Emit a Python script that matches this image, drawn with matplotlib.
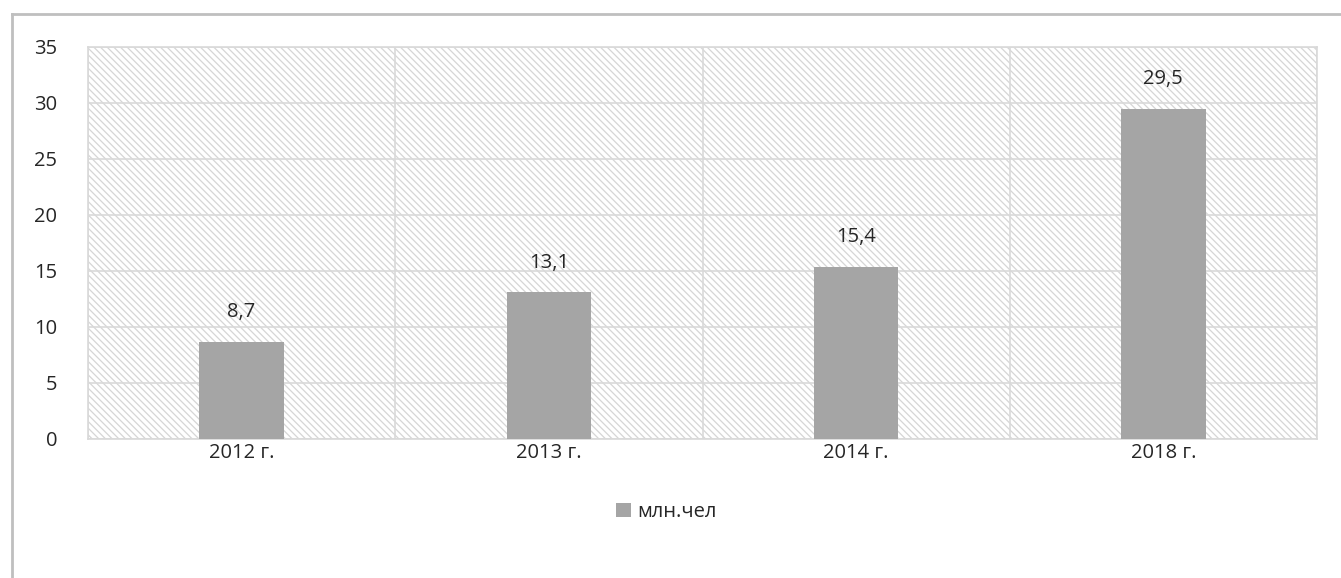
import matplotlib
matplotlib.use("Agg")
import matplotlib.pyplot as plt
from matplotlib.patches import Rectangle, Patch
from matplotlib.lines import Line2D

categories = ["2012 г.", "2013 г.", "2014 г.", "2018 г."]
values = [8.7, 13.1, 15.4, 29.5]
value_labels = ["8,7", "13,1", "15,4", "29,5"]
series_name = "млн.чел"
y_ticks = [0, 5, 10, 15, 20, 25, 30, 35]

plt.rcParams['font.family'] = ['Open Sans', 'DejaVu Sans']
plt.rcParams['hatch.linewidth'] = 0.9

BAR = "#a5a5a5"
GRID = "#d9d9d9"
TEXT = "#262626"
FS = 14.5

fig = plt.figure(figsize=(13.41, 5.78), dpi=100)
ax = fig.add_axes([88 / 1341, 1 - 439 / 578, (1317 - 88) / 1341, (439 - 47) / 578])

n = len(categories)
ax.set_xlim(-0.5, n - 0.5)
ax.set_ylim(0, 35)

# hatched plot background
ax.add_patch(Rectangle((0, 0), 1, 1, transform=ax.transAxes, facecolor="white",
                       edgecolor="#d6d6d6", linewidth=0, hatch="\\" * 5, zorder=0))

# grid lines
for t in y_ticks:
    ax.axhline(t, color=GRID, linewidth=1.2, zorder=1)
for b in range(n + 1):
    ax.axvline(b - 0.5, color=GRID, linewidth=1.2, zorder=1)

x = list(range(n))
ax.bar(x, values, width=0.275, color=BAR, zorder=3)

for xi, v, lab in zip(x, values, value_labels):
    ax.annotate(lab, (xi, v), xytext=(0, 14), textcoords="offset points",
                ha="center", va="bottom", fontsize=FS, color=TEXT)

ax.set_xticks(x)
ax.set_xticklabels(categories)
ax.set_yticks(y_ticks)
ax.tick_params(length=0, labelsize=FS, labelcolor=TEXT)
ax.tick_params(axis="x", pad=3)
ax.tick_params(axis="y", pad=22)
for s in ax.spines.values():
    s.set_color(GRID)
    s.set_linewidth(1.2)

fig.legend(handles=[Patch(facecolor=BAR, label=series_name)], loc="center",
           bbox_to_anchor=(0.497, 1 - 512 / 578), frameon=False, fontsize=FS,
           handlelength=0.75, handleheight=0.75, handletextpad=0.3, labelcolor=TEXT)

# outer chart frame (left and top edges)
fig.add_artist(Line2D([12 / 1341, 12 / 1341], [0, 1 - 14 / 578], transform=fig.transFigure,
                      color="#bfbfbf", linewidth=2))
fig.add_artist(Line2D([12 / 1341, 1], [1 - 14 / 578, 1 - 14 / 578], transform=fig.transFigure,
                      color="#bfbfbf", linewidth=2))

fig.savefig("out.png", dpi=100)
